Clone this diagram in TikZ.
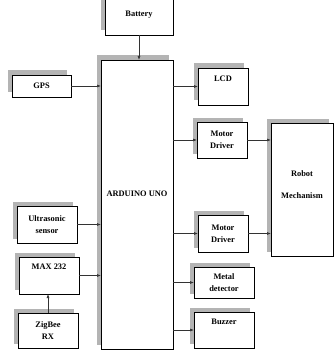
\documentclass[tikz,border=0pt]{standalone}
\usepackage{fontspec}
\setmainfont{Liberation Serif}
\usetikzlibrary{arrows.meta,shadows}
\definecolor{shade}{HTML}{B4B4B4}
\tikzset{box/.style={draw,line width=0.8pt,fill=white,inner sep=0pt,outer sep=0pt,align=center,font=\bfseries\fontsize{8.4}{12}\selectfont,drop shadow={shadow xshift=-4.5pt,shadow yshift=4.5pt,fill=shade,opacity=1}},boxtext/.style={font=\bfseries\fontsize{8.4}{12}\selectfont,align=center,inner sep=0pt},edge/.style={-{Latex[length=4pt,width=3pt]},line width=0.6pt,draw=black!80}}

\begin{document}
\begin{tikzpicture}[x=1pt,y=-1pt]
\useasboundingbox (0,0) rectangle (336,350);
\clip (0,0) rectangle (336,350);
\node[box,minimum width=68pt,minimum height=40pt] (battery) at (139,15) {Battery};
\node[box,minimum width=72pt,minimum height=289pt,label={[boxtext,yshift=11pt]center:ARDUINO UNO}] (arduino) at (137,204.5) {};
\node[box,minimum width=59pt,minimum height=22pt] (gps) at (41.5,86) {GPS};
\node[box,minimum width=60pt,minimum height=37pt] (ultra) at (47,224.5) {Ultrasonic\\sensor};
\node[box,minimum width=60pt,minimum height=37pt,label={[boxtext,yshift=8.5pt]center:MAX 232}] (max) at (49,275.5) {};
\node[box,minimum width=60pt,minimum height=35pt] (zigbee) at (48,330.5) {ZigBee\\RX};
\node[box,minimum width=50pt,minimum height=37pt,label={[boxtext,yshift=7.5pt]center:LCD}] (lcd) at (223,86.5) {};
\node[box,minimum width=50pt,minimum height=36pt] (mdrvA) at (222,140) {Motor\\Driver};
\node[box,minimum width=50pt,minimum height=37pt] (mdrvB) at (223,233.5) {Motor\\Driver};
\node[box,minimum width=60pt,minimum height=31pt] (metal) at (224,282.5) {Metal\\detector};
\node[box,minimum width=60pt,minimum height=36pt,label={[boxtext,yshift=8pt]center:Buzzer}] (buzzer) at (224,330) {};
\node[box,minimum width=62pt,minimum height=133pt,label={[boxtext,yshift=4.5pt]center:Robot\\[10pt]Mechanism}] (robot) at (302,189.5) {};
% inputs
\draw[edge] (battery.south) -- (battery.south |- arduino.north);
\draw[edge] (gps.east) -- (gps.east -| arduino.west);
\draw[edge] (ultra.east) -- (ultra.east -| arduino.west);
\draw[edge] (max.east) -- (max.east -| arduino.west);
\draw[edge] (zigbee.north) -- (zigbee.north |- max.south);
% outputs
\draw[edge] (arduino.east |- lcd.west) -- (lcd.west);
\draw[edge] (arduino.east |- mdrvA.west) -- (mdrvA.west);
\draw[edge] (arduino.east |- mdrvB.west) -- (mdrvB.west);
\draw[edge] (arduino.east |- metal.west) -- (metal.west);
\draw[edge] (arduino.east |- buzzer.west) -- (buzzer.west);
\draw[edge] (mdrvA.east) -- (mdrvA.east -| robot.west);
\draw[edge] (mdrvB.east) -- (mdrvB.east -| robot.west);
\end{tikzpicture}
\end{document}
